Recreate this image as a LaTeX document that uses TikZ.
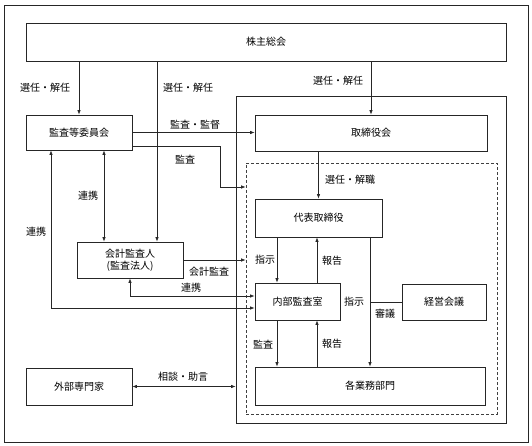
\documentclass[tikz,border=0pt]{standalone}
\usepackage{fontspec}
\usepackage{tikz}
\usetikzlibrary{arrows.meta}
\newfontfamily\jpfont{Noto Sans CJK JP}

\begin{document}
\begin{tikzpicture}[x=1pt, y=-1pt, font=\jpfont\fontsize{10}{12}\selectfont]
        % ================= スタイル =================
        \tikzset{
            % 実線の箱
            box/.style={draw=black!85, line width=0.8pt, fill=white, inner sep=0pt, align=center},
            % 枠 (取締役会側 / 業務執行側)
            frame_solid/.style={draw=black!85, line width=0.8pt, inner sep=0pt},
            frame_dash/.style={draw=black!75, line width=0.7pt, dash pattern=on 3pt off 2pt, inner sep=0pt},
            % 矢印
            arr/.style={draw=black!85, line width=0.7pt, -{Latex[length=4.5pt, width=3.5pt]}},
            both/.style={draw=black!85, line width=0.7pt, {Latex[length=4.5pt, width=3.5pt]}-{Latex[length=4.5pt, width=3.5pt]}},
            plain/.style={draw=black!85, line width=0.7pt},
            lbl/.style={inner sep=1pt}
        }

        \useasboundingbox (0,0) rectangle (532,446);

        % ================= 枠 =================
        \node[frame_solid, minimum width=524pt, minimum height=437pt] (outer) at (266,223.5) {};
        \node[frame_solid, minimum width=270pt, minimum height=327pt] (board) at (371,259.5) {};
        \node[frame_dash, minimum width=251pt, minimum height=251pt] (dashed) at (371.5,288.5) {};

        % ================= 箱 =================
        \node[box, minimum width=480pt, minimum height=38pt] (kabunushi) at (266,42) {株主総会};
        \node[box, minimum width=106pt, minimum height=35pt] (kansaiin) at (79,132.5) {監査等委員会};
        \node[box, minimum width=232pt, minimum height=36pt] (torishimari) at (371,133) {取締役会};
        \node[box, minimum width=127pt, minimum height=38pt] (daihyo) at (318.5,218) {代表取締役};
        \node[box, minimum width=106pt, minimum height=36pt] (kaikei) at (130,260) {会計監査人\\(監査法人)};
        \node[box, minimum width=85pt, minimum height=37pt] (naibu) at (297.5,301.5) {内部監査室};
        \node[box, minimum width=84pt, minimum height=36pt] (keiei) at (444,302) {経営会議};
        \node[box, minimum width=230pt, minimum height=38pt] (gyomu) at (370,386) {各業務部門};
        \node[box, minimum width=106pt, minimum height=37pt] (gaibu) at (79,386.5) {外部専門家};

        % ================= 補助座標 =================
        \coordinate (s2) at ([xshift=27pt]kaikei.north);
        \coordinate (m1) at (220,187);
        \coordinate (c1) at ([xshift=-20.5pt]naibu.north);
        \coordinate (c2) at ([xshift=19.5pt]naibu.north);
        \coordinate (c4) at ([xshift=-28pt]kansaiin.south);
        \coordinate (c5) at ([xshift=25pt]kansaiin.south);

        % ================= 矢印 =================
        % 株主総会から
        \draw[arr] (kabunushi.south -| kansaiin.north) -- (kansaiin.north);
        \draw[arr] (s2 |- kabunushi.south) -- (s2);
        \draw[arr] (kabunushi.south -| torishimari.north) -- (torishimari.north);

        % 監査等委員会から
        \draw[arr] (kansaiin.east) -- (kansaiin.east -| torishimari.west);
        \draw[arr] ([yshift=-13.5pt]kansaiin.east) -| (m1) -- (m1 -| dashed.west);
        \draw[both] (c5) -- (c5 |- kaikei.north);
        \draw[both] (c4) |- ([yshift=-6.5pt]naibu.west);

        % 会計監査人から
        \draw[arr] (kaikei.east) -- (kaikei.east -| dashed.west);
        \draw[both] (kaikei.south) |- ([yshift=5.5pt]naibu.west);

        % 取締役会・代表取締役
        \draw[arr] (daihyo.north |- torishimari.south) -- (daihyo.north);
        \draw[arr] (c1 |- daihyo.south) -- (c1);
        \draw[arr] (c2) -- (c2 |- daihyo.south);
        \draw[arr] (gyomu.north |- daihyo.south) -- (gyomu.north);
        \draw[plain] (keiei.west) -- (keiei.west -| gyomu.north);

        % 内部監査室と各業務部門
        \draw[arr] (c1 |- naibu.south) -- (c1 |- gyomu.north);
        \draw[arr] (c2 |- gyomu.north) -- (c2 |- naibu.south);

        % 外部専門家
        \draw[both] (gaibu.east) -- (gaibu.east -| board.west);

        % ================= ラベル =================
        \node[lbl] (l1) at (45,88) {選任・解任};
        \node[lbl] (l2) at (188,88) {選任・解任};
        \node[lbl] (l3) at (338,81) {選任・解任};
        \node[lbl] (l4) at (195,125) {監査・監督};
        \node[lbl] (l5) at (185,160) {監査};
        \node[lbl] (l6) at (350,180) {選任・解職};
        \node[lbl] (l7) at (88,196) {連携};
        \node[lbl] (l8) at (36,232) {連携};
        \node[lbl] (l9) at (265,260) {指示};
        \node[lbl] (l10) at (332,261) {報告};
        \node[lbl] (l11) at (209,272) {会計監査};
        \node[lbl] (l12) at (191,288) {連携};
        \node[lbl] (l13) at (354,302) {指示};
        \node[lbl] (l14) at (385,314) {審議};
        \node[lbl] (l15) at (263,345) {監査};
        \node[lbl] (l16) at (332,344) {報告};
        \node[lbl] (l17) at (183,377) {相談・助言};

\end{tikzpicture}
\end{document}
